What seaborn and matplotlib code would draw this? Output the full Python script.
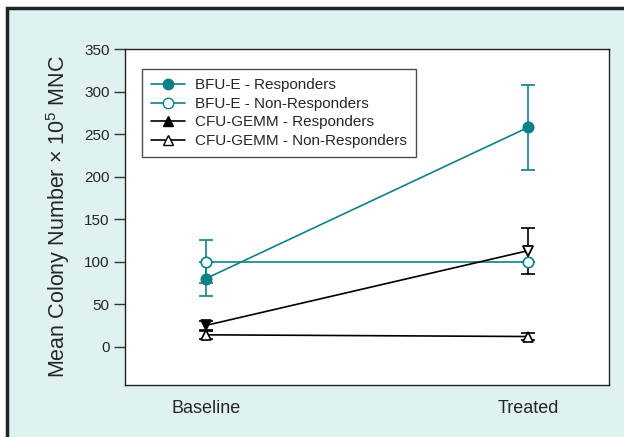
import numpy as np
import pandas as pd
import seaborn as sns
import matplotlib.pyplot as plt
from matplotlib.lines import Line2D
from matplotlib.patches import Rectangle

# data
timepoints = ['Baseline', 'Treated']
bfu_resp = [80, 258]
bfu_resp_err = [20, 50]
bfu_non = [100, 100]
bfu_non_err = [25, 0]
cfu_resp = [25, 113]
cfu_resp_err = [5, 27]
cfu_non = [14, 12]
cfu_non_err = [5, 4]

teal = '#0f8088'

sns.set_style('white')
plt.rcParams['font.family'] = ['Liberation Sans', 'DejaVu Sans']
plt.rcParams['mathtext.fontset'] = 'custom'
plt.rcParams['mathtext.rm'] = 'Liberation Sans'

fig = plt.figure(figsize=(6.24, 4.37), dpi=100)
fig.patch.set_facecolor('white')
fig.patches.append(Rectangle((7 / 624, -0.1), 1.2, 1 - 8 / 437 + 0.1, transform=fig.transFigure,
                             facecolor='#dff2f1', edgecolor='#222222', lw=2.5, zorder=-5))
ax = fig.add_axes([125 / 624, 1 - 385 / 437, 484 / 624, 336 / 437])
ax.set_facecolor('white')

x = np.arange(len(timepoints))
series = [
    (bfu_resp, bfu_resp_err, teal, 'o', teal),
    (bfu_non, bfu_non_err, teal, 'o', 'white'),
    (cfu_resp, cfu_resp_err, 'black', 'v', 'black'),
    (cfu_non, cfu_non_err, 'black', '^', 'white'),
]
for vals, err, col, mk, fc in series:
    ax.errorbar(x, vals, yerr=err, fmt='none', ecolor=col, elinewidth=1.2, capsize=5, capthick=1.2, zorder=2)
    sns.lineplot(x=x, y=vals, ax=ax, color=col, lw=1.2, marker=mk, markersize=7.5,
                 markerfacecolor=fc, markeredgecolor=col, markeredgewidth=1.2, zorder=3)

# treated CFU-GEMM responder point is drawn open in the original
ax.plot(x[1], cfu_resp[1], marker='v', markersize=7.5, markerfacecolor='white',
        markeredgecolor='black', markeredgewidth=1.2, zorder=4)

ax.set_xlim(-0.25, 1.25)
ax.set_ylim(-45, 350)
ax.set_yticks(range(0, 351, 50))
ax.set_xticks([])
for i, t in enumerate(timepoints):
    ax.text(x[i], -0.045, t, transform=ax.get_xaxis_transform(), ha='center', va='top', fontsize=13)
ax.tick_params(axis='y', direction='out', length=8, width=1, pad=3, labelsize=11, left=True, color='#333333')
for s in ax.spines.values():
    s.set_color('#222222')
    s.set_linewidth(1)
ax.set_ylabel('Mean Colony Number \u00d7 10$^{5}$ MNC', fontsize=15.5, labelpad=9)

handles = [
    Line2D([], [], color=teal, marker='o', markerfacecolor=teal, markeredgecolor=teal, markersize=7.5, lw=1.2),
    Line2D([], [], color=teal, marker='o', markerfacecolor='white', markeredgecolor=teal, markersize=7.5, lw=1.2),
    Line2D([], [], color='black', marker='^', markerfacecolor='black', markersize=7.5, lw=1.2),
    Line2D([], [], color='black', marker='^', markerfacecolor='white', markeredgecolor='black', markersize=7.5, lw=1.2),
]
labels = ['BFU-E - Responders', 'BFU-E - Non-Responders',
          'CFU-GEMM - Responders', 'CFU-GEMM - Non-Responders']
leg = ax.legend(handles, labels, loc='upper left', bbox_to_anchor=(0.035, 0.94), borderaxespad=0,
                fontsize=11, frameon=True, fancybox=False, edgecolor='#222222', handlelength=2.2,
                labelspacing=0.3, borderpad=0.6, handletextpad=0.7)
leg.get_frame().set_linewidth(1)

fig.savefig('out.png', dpi=100)
